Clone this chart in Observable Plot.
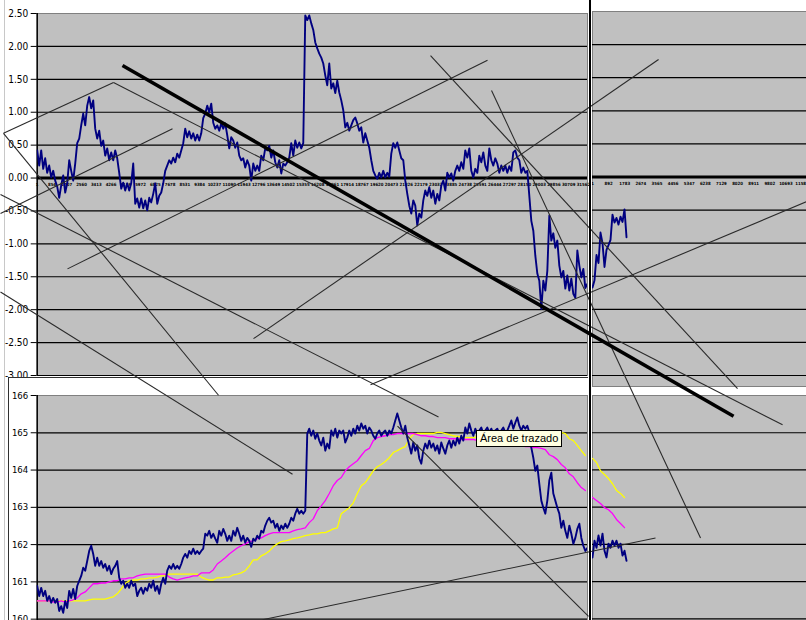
<!DOCTYPE html>
<html><head><meta charset="utf-8">
<script src="https://cdn.jsdelivr.net/npm/d3@7"></script>
<script src="https://cdn.jsdelivr.net/npm/@observablehq/plot@0.6"></script>
<style>
body{margin:0;background:#fff;}
#sheet{position:relative;width:806px;height:620px;overflow:hidden;background:#fff;}
</style></head><body><div id="sheet"></div>
<script>
// ---------- data ----------
const topTicks = [2.5,2,1.5,1,0.5,0,-0.5,-1,-1.5,-2,-2.5,-3];
const bottomTicks = [166,165,164,163,162,161,160];
const topLeftCats = [1,854,1707,2560,3413,4266,5119,5972,6825,7678,8531,9384,10237,11090,11943,12796,13649,14502,15355,16208,17061,17914,18767,19620,20473,21326,22179,23032,23885,24738,25591,26444,27297,28150,29003,29856,30709,31562];
const topRightCats = [1,892,1783,2674,3565,4456,5347,6238,7129,8020,8911,9802,10693,11584];

const leftStep = 115.6;   // rows between samples, left charts
const rightStep = 110.6;  // rows between samples, right charts

const topLeftValues = [
0.42,0.19,0.42,0.14,0.30,0.08,0.19,0.01,0.11,-0.04,
-0.13,-0.30,-0.11,0.04,-0.22,-0.08,0.27,0.11,-0.04,0.22,
0.53,0.60,0.80,0.98,0.80,1.10,1.23,1.06,1.18,0.75,
0.60,0.72,0.49,0.57,0.34,0.45,0.27,0.39,0.27,0.42,
0.30,0.08,-0.16,-0.07,-0.19,-0.08,-0.19,-0.08,0.22,-0.39,
-0.31,-0.45,-0.31,-0.46,-0.34,-0.49,-0.30,-0.37,-0.24,-0.08,
-0.39,-0.27,-0.22,-0.08,0.11,0.19,0.27,0.22,0.31,0.24,
0.37,0.31,0.42,0.53,0.75,0.62,0.71,0.60,0.68,0.57,
0.66,0.57,0.68,0.91,0.98,1.10,1.00,1.13,0.84,0.75,
0.80,0.72,0.83,0.75,0.83,0.65,0.45,0.62,0.57,0.46,
0.54,0.34,0.27,0.30,0.16,0.27,0.19,-0.04,0.22,0.11,
0.19,0.11,0.34,0.27,0.45,0.42,0.49,0.31,0.42,0.24,
0.16,0.27,0.07,0.22,0.19,0.24,0.31,0.53,0.34,0.57,
0.46,0.54,0.45,0.53,2.47,2.40,2.47,2.35,2.25,2.06,
1.97,1.89,1.83,1.74,1.56,1.41,1.74,1.36,1.44,1.29,
1.48,1.30,1.18,1.03,0.77,0.84,0.72,0.80,0.88,0.92,
0.83,0.72,0.77,0.54,0.68,0.57,0.46,0.27,0.11,0.04,
-0.01,0.08,0.01,0.11,0.01,0.08,0.02,0.37,0.53,0.46,
0.54,0.42,0.30,0.27,-0.04,-0.24,-0.42,-0.54,-0.34,-0.42,
-0.72,-0.54,-0.60,-0.34,-0.19,-0.27,-0.14,-0.30,-0.19,-0.39,
-0.24,-0.34,-0.11,-0.04,-0.19,0.08,0.01,0.07,-0.04,0.11,
0.19,0.11,0.24,0.14,0.42,0.31,0.45,0.11,0.01,0.14,
0.08,0.34,0.24,0.39,0.19,0.11,0.45,0.27,0.19,0.30,
0.22,0.08,0.19,0.11,0.19,0.08,0.18,0.11,0.39,0.42,
0.31,0.27,0.08,0.16,0.08,0.11,-0.27,-0.65,-0.80,-1.18,
-1.45,-1.56,-1.99,-1.56,-1.71,-1.41,-0.57,-0.95,-0.84,-1.06,
-0.95,-1.33,-1.51,-1.41,-1.68,-1.48,-1.71,-1.53,-1.76,-1.82,
-1.10,-1.33,-1.51,-1.38,-1.67,-1.61];

const topRightValues = [-1.67,-1.56,-1.18,-1.30,-0.84,-1.00,-1.36,-1.10,-1.03,-0.95,-0.57,-0.69,-0.62,-0.72,-0.60,-0.68,-0.49,-0.91];

const bottomLeftPrice = [
160.89,160.62,160.84,160.62,160.76,160.49,160.62,160.44,160.57,160.44,
160.54,160.22,160.35,160.17,160.49,160.30,160.76,160.57,160.81,160.54,
160.89,161.03,161.16,161.38,161.30,161.56,161.83,161.97,161.75,161.43,
161.65,161.43,161.56,161.38,161.48,161.30,161.43,161.21,161.35,161.43,
161.56,161.11,160.95,161.03,160.84,160.95,160.84,161.03,160.89,160.95,
160.62,160.76,160.84,160.68,160.84,160.76,160.95,160.84,161.03,160.76,
160.89,160.68,160.95,161.11,160.95,161.30,161.43,161.35,161.48,161.35,
161.43,161.35,161.48,161.65,161.75,161.65,161.83,161.75,161.89,161.75,
161.83,161.75,161.83,161.89,162.29,162.24,162.37,162.18,162.29,162.16,
162.05,162.37,162.24,162.42,162.29,162.10,162.24,162.10,162.37,162.24,
162.45,162.29,162.10,162.24,162.05,162.18,162.10,161.94,162.16,162.10,
162.24,162.16,162.37,162.32,162.51,162.64,162.72,162.59,162.64,162.45,
162.56,162.37,162.51,162.42,162.56,162.45,162.56,162.72,162.64,162.83,
162.96,162.83,162.91,162.83,162.91,164.98,165.11,164.92,165.06,164.84,
164.98,164.79,164.66,164.87,164.52,164.71,164.58,165.06,164.92,165.11,
164.87,165.06,164.98,165.06,164.74,164.87,165.06,164.92,165.11,164.98,
165.19,165.06,165.25,165.11,165.19,164.98,165.14,165.06,164.92,164.84,
164.98,165.06,164.92,165.01,165.06,164.92,165.06,164.98,165.14,165.33,
165.52,165.33,165.14,164.98,165.19,164.87,164.66,164.44,164.74,164.52,
164.66,164.31,164.17,164.52,164.71,164.58,164.79,164.60,164.71,164.52,
164.66,164.44,164.74,164.58,164.44,164.66,164.79,164.60,164.79,164.66,
164.87,164.71,164.92,164.79,165.14,164.98,165.25,165.06,164.92,165.11,
164.98,165.06,165.14,164.98,165.06,165.14,165.01,165.11,164.98,165.06,
165.11,164.98,165.06,165.14,165.01,165.06,165.19,165.33,165.11,165.27,
165.41,165.19,165.06,165.19,165.11,165.19,165.01,164.60,164.33,163.98,
164.12,163.63,163.18,162.99,162.83,163.18,163.72,163.93,163.37,163.18,
162.99,162.83,162.45,162.64,162.37,162.18,162.51,162.29,162.02,162.18,
162.42,162.56,162.18,161.97,161.83,161.91];

const bottomLeftMagenta = [
160.49,160.49,160.49,160.49,160.46,160.46,160.49,160.46,160.49,160.52,
160.57,160.68,160.73,160.84,160.95,160.95,160.97,160.97,161.00,161.03,
161.03,161.08,161.08,161.11,161.11,161.16,161.19,161.21,161.21,161.21,
161.21,161.21,161.21,161.13,161.08,161.05,161.08,161.11,161.13,161.16,
161.16,161.24,161.24,161.24,161.32,161.48,161.56,161.65,161.75,161.83,
161.91,161.97,162.02,162.08,162.10,162.16,162.18,162.24,162.29,162.32,
162.32,162.32,162.32,162.32,162.37,162.40,162.42,162.45,162.59,162.69,
162.91,163.04,163.18,163.37,163.58,163.72,163.80,163.98,164.09,164.17,
164.25,164.39,164.52,164.58,164.79,164.87,164.90,164.92,164.95,164.95,
164.98,164.98,164.98,164.98,164.98,164.95,164.92,164.92,164.90,164.90,
164.87,164.87,164.87,164.84,164.84,164.84,164.82,164.82,164.82,164.82,
164.79,164.79,164.76,164.76,164.74,164.74,164.71,164.71,164.68,164.68,
164.66,164.66,164.63,164.63,164.60,164.60,164.58,164.55,164.41,164.36,
164.28,164.15,164.06,163.90,163.82,163.66,163.53,163.45];

const bottomLeftYellow = [
160.49,160.49,160.49,160.49,160.49,160.49,160.49,160.49,160.49,160.49,
160.49,160.49,160.49,160.52,160.54,160.54,160.54,160.54,160.57,160.60,
160.68,160.81,160.95,161.03,161.05,161.05,161.08,161.08,161.11,161.11,
161.13,161.16,161.16,161.21,161.21,161.21,161.21,161.21,161.21,161.21,
161.21,161.13,161.08,161.05,161.05,161.11,161.11,161.13,161.13,161.19,
161.21,161.24,161.30,161.43,161.59,161.59,161.70,161.75,161.83,161.94,
162.02,162.08,162.10,162.13,162.16,162.18,162.21,162.24,162.26,162.29,
162.29,162.32,162.32,162.37,162.42,162.45,162.83,162.91,162.99,163.12,
163.37,163.58,163.66,163.82,163.98,164.09,164.15,164.23,164.33,164.47,
164.52,164.58,164.63,164.84,164.95,164.98,164.98,164.98,164.98,164.98,
165.01,165.01,164.98,164.95,164.92,164.90,164.90,164.87,164.87,164.87,
164.90,164.92,164.92,164.95,164.95,164.95,164.98,164.98,164.98,164.98,
164.98,164.98,164.98,164.98,164.98,164.98,164.98,164.98,165.01,165.01,
165.01,165.01,164.98,164.84,164.79,164.66,164.52,164.39];

const bottomRightPrice = [161.65,162.10,161.91,162.24,161.97,162.29,161.83,161.65,162.02,161.91,162.10,161.97,162.10,161.91,162.02,161.70,161.83,161.56];
const bottomRightMagenta = [163.26,163.18,163.10,162.99,162.93,162.83,162.67,162.56,162.45];
const bottomRightYellow = [164.31,164.20,163.98,163.88,163.77,163.63,163.45,163.37,163.26];

// hand-drawn trend lines, in the upper chart's units (row, value)
const trendLines = [
  {x1:-1948, y1:0.68,  x2:4409,  y2:1.45},
  {x1:4409,  y1:1.45,  x2:43071, y2:-3.75},
  {x1:-1948, y1:0.68,  x2:10477, y2:-3.30},
  {x1:-2121, y1:-0.25, x2:23191, y2:-3.63},
  {x1:-2121, y1:-0.54, x2:7819,  y2:0.75},
  {x1:-2121, y1:-1.73, x2:14754, y2:-4.50},
  {x1:1751,  y1:-1.38, x2:26023, y2:1.79},
  {x1:12500, y1:-2.44, x2:35905, y2:1.80},
  {x1:22729, y1:1.86,  x2:40470, y2:-3.20},
  {x1:26254, y1:1.33,  x2:38332, y2:-5.47},
  {x1:20822, y1:-3.77, x2:31860, y2:-6.66},
  {x1:13020, y1:-6.71, x2:35731, y2:-5.47},
  {x1:19262, y1:-3.14, x2:44458, y2:-0.36}
];
const heavyTrend = [{x1:4930, y1:1.71, x2:40240, y2:-3.62}];

// ---------- drawing ----------
const sheet = document.getElementById("sheet");
const NARROW = '"Liberation Sans Narrow","DejaVu Sans Condensed","Liberation Sans",sans-serif';
const GRAY = "#c0c0c0", NAVY = "#000080";
const idx = step => (d, i) => i * step;

function place(el, left, top) {
  el.style.position = "absolute";
  el.style.left = left + "px";
  el.style.top = top + "px";
  sheet.appendChild(el);
  return el;
}
function div(left, top, w, h, css) {
  const d = document.createElement("div");
  d.style.cssText = css || "";
  d.style.width = w + "px"; d.style.height = h + "px";
  return place(d, left, top);
}

// spreadsheet edge
div(4, 0, 1, 620, "background:#c8c8c8");

// upper left chart
place(Plot.plot({
  width: 590, height: 381,
  marginLeft: 36.7, marginRight: 3, marginTop: 13, marginBottom: 6,
  style: {fontFamily: NARROW, fontSize: "10px", background: "transparent", overflow: "visible"},
  x: {domain: [0, 31800], axis: null},
  y: {domain: [-3, 2.5], axis: null},
  marks: [
    Plot.frame({fill: GRAY, stroke: "#808080"}),
    Plot.ruleY(topTicks.filter(t => t !== 0 && t !== 2.5), {stroke: "#000", strokeWidth: 1.2}),
    Plot.ruleY([0], {stroke: "#000", strokeWidth: 3}),
    Plot.ruleX([0], {stroke: "#000", strokeWidth: 1.5}),
    Plot.axisY({ticks: topTicks, tickFormat: d => d.toFixed(2), tickSize: 6, tickPadding: 3, fontSize: 10, anchor: "left"}),
    Plot.text(topLeftCats, {x: d => d, y: () => 0, text: d => String(d), dy: 6.5, fontSize: 4.3, fontWeight: "bold", fontFamily: NARROW}),
    Plot.line(topLeftValues, {x: idx(leftStep), y: d => d, stroke: NAVY, strokeWidth: 1.9, clip: true})
  ]
}), 0, 0);

// upper right chart
place(Plot.plot({
  width: 214, height: 387,
  marginLeft: 0, marginRight: 0, marginTop: 11, marginBottom: 1,
  style: {fontFamily: NARROW, fontSize: "10px", background: "transparent"},
  x: {domain: [0, 11834], axis: null},
  y: {domain: [-3.166, 2.5], axis: null},
  marks: [
    Plot.frame({fill: GRAY, stroke: "#808080"}),
    Plot.ruleY(topTicks.filter(t => t !== 0 && t !== 2.5), {stroke: "#000", strokeWidth: 1.2}),
    Plot.ruleY([0], {stroke: "#000", strokeWidth: 3}),
    Plot.text(topRightCats, {x: d => d, y: () => 0, text: d => String(d), dy: 6.5, fontSize: 4.3, fontWeight: "bold", fontFamily: NARROW}),
    Plot.line(topRightValues, {x: idx(rightStep), y: d => d, stroke: NAVY, strokeWidth: 1.9, clip: true})
  ]
}), 592, 0);

// lower left chart (white chart area with border)
div(8, 377, 580, 250, "background:#fff;border-top:1px solid #303030;border-left:1px solid #303030;box-sizing:border-box");
place(Plot.plot({
  width: 580, height: 262,
  marginLeft: 28.7, marginRight: 1, marginTop: 18, marginBottom: 1.7,
  style: {fontFamily: NARROW, fontSize: "9.5px", background: "transparent"},
  x: {domain: [0, 31800], axis: null},
  y: {domain: [159.5, 166], axis: null},
  marks: [
    Plot.frame({fill: GRAY, stroke: "#808080"}),
    Plot.ruleY(bottomTicks.filter(t => t !== 166), {stroke: "#000", strokeWidth: 1.2}),
    Plot.ruleX([0], {stroke: "#000", strokeWidth: 1.5}),
    Plot.axisY({ticks: bottomTicks, tickFormat: d => String(d), tickSize: 6, tickPadding: 3, fontSize: 9.5, anchor: "left"}),
    Plot.line(bottomLeftYellow, {x: idx(leftStep * 2), y: d => d, stroke: "#ffff00", strokeWidth: 1.3, clip: true}),
    Plot.line(bottomLeftMagenta, {x: idx(leftStep * 2), y: d => d, stroke: "#ff00ff", strokeWidth: 1.3, clip: true}),
    Plot.line(bottomLeftPrice, {x: idx(leftStep), y: d => d, stroke: NAVY, strokeWidth: 1.9, clip: true})
  ]
}), 8, 377);

// lower right chart
place(Plot.plot({
  width: 214, height: 262,
  marginLeft: 0, marginRight: 0, marginTop: 9, marginBottom: 11,
  style: {fontFamily: NARROW, fontSize: "9.5px", background: "transparent"},
  x: {domain: [0, 11834], axis: null},
  y: {domain: [159.5, 166], axis: null},
  marks: [
    Plot.frame({fill: GRAY, stroke: "#808080"}),
    Plot.ruleY(bottomTicks.filter(t => t !== 166), {stroke: "#000", strokeWidth: 1.2}),
    Plot.line(bottomRightYellow, {x: idx(rightStep * 2), y: d => d, stroke: "#ffff00", strokeWidth: 1.3, clip: true}),
    Plot.line(bottomRightMagenta, {x: idx(rightStep * 2), y: d => d, stroke: "#ff00ff", strokeWidth: 1.3, clip: true}),
    Plot.line(bottomRightPrice, {x: idx(rightStep), y: d => d, stroke: NAVY, strokeWidth: 1.9, clip: true})
  ]
}), 592, 386);

// drawn trend lines over everything (in the upper-left chart's coordinates)
place(Plot.plot({
  width: 806, height: 620,
  marginLeft: 36.7, marginRight: 219, marginTop: 13, marginBottom: 245,
  style: {background: "transparent", pointerEvents: "none"},
  x: {domain: [0, 31800], axis: null},
  y: {domain: [-3, 2.5], axis: null},
  marks: [
    Plot.link(trendLines, {x1: "x1", y1: "y1", x2: "x2", y2: "y2", stroke: "#2a2a2a", strokeWidth: 1.1}),
    Plot.link(heavyTrend, {x1: "x1", y1: "y1", x2: "x2", y2: "y2", stroke: "#000", strokeWidth: 3.6})
  ]
}), 0, 0);

// window split bar
div(589, 0, 2, 620, "background:#000");

// Excel hover tip
const tip = div(476, 430, 86, 17, "background:#ffffe1;border:1px solid #000;box-sizing:border-box;font:11px 'Liberation Sans',Arial,sans-serif;line-height:15px;padding-left:3px;color:#000;white-space:nowrap");
tip.textContent = "Área de trazado";
</script>
</body></html>
